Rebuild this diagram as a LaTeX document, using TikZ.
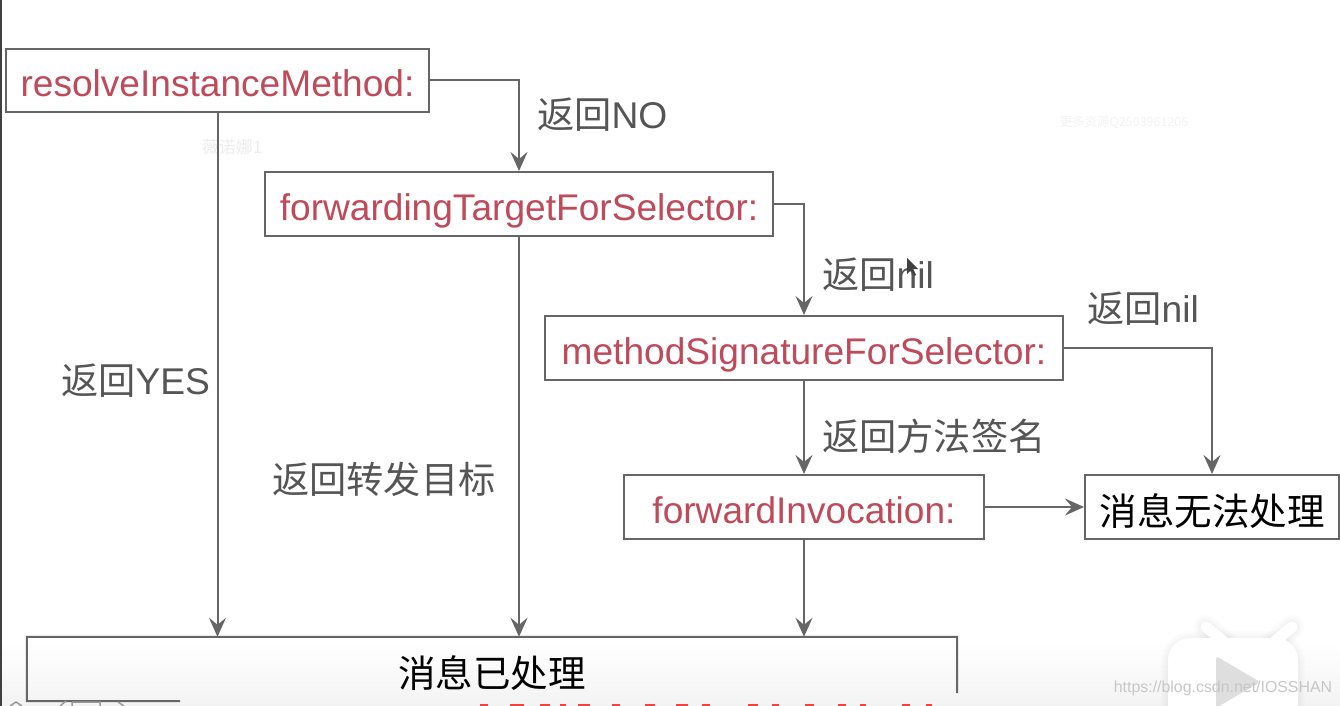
\documentclass[tikz,border=0pt]{standalone}
\usepackage{fontspec}
\setmainfont{Liberation Sans}
\newfontfamily\cjk{Noto Sans CJK SC}
\usetikzlibrary{arrows.meta}
\definecolor{linegray}{HTML}{666666}
\definecolor{textgray}{HTML}{555555}
\definecolor{methodred}{HTML}{BE4A5A}
\definecolor{markred}{HTML}{F01818}
\definecolor{wmgray}{HTML}{EDEDED}
\definecolor{bgend}{HTML}{F3F3F3}
\tikzset{
  x=1pt,y=-1pt,
  methodbox/.style={draw=linegray,line width=2pt,fill=white,text=methodred,inner sep=0pt,
    text height=32pt,text depth=0pt,font=\fontsize{37.1}{37}\selectfont},
  resultbox/.style={draw=linegray,line width=2pt,fill=white,text=black,inner sep=0pt,
    font=\fontsize{37.5}{37}\selectfont\cjk},
  edgelabel/.style={text=textgray,inner sep=0pt,font=\fontsize{37.2}{37}\selectfont},
  conn/.style={draw=linegray,line width=2pt,-{Stealth[length=19pt,width=17pt,inset=7pt]}},
  plainconn/.style={draw=linegray,line width=2pt}
}
\begin{document}
\begin{tikzpicture}
\useasboundingbox (0,0) rectangle (1340,706);
\fill[white] (0,0) rectangle (1340,640);
\shade[top color=white,bottom color=bgend] (0,640) rectangle (1340,706);
\fill[black!75] (0,0) rectangle (1.5,706);
% video logo, with a soft shadow
\foreach \lw in {14,10,6,3}{
  \draw[black,opacity=0.012,line width=\lw pt,rounded corners=24pt] (1168,638) rectangle (1298,730);
  \draw[black,opacity=0.012,line width=\lw pt+11pt,line cap=round] (1206,627) -- (1227,645) (1292,627) -- (1271,645);
}
\draw[white,line width=11pt,line cap=round] (1206,627) -- (1240,655) (1292,627) -- (1258,655);
\fill[white,rounded corners=22pt] (1168,638) rectangle (1298,730);
\fill[black!13,rounded corners=3pt] (1216,656) -- (1260,682) -- (1216,708) -- cycle;
% watermarks
\node[text=wmgray,inner sep=0pt,font=\fontsize{17}{17}\selectfont\cjk] (wma) at (232,147) {薇诺娜1};
\node[text=wmgray!70,inner sep=0pt,font=\fontsize{12.5}{13}\selectfont\cjk] (wmb) at (1124,122) {更多资源Q2503961206};
\node[text=black!22,inner sep=0pt,font=\fontsize{15.9}{16}\selectfont] (wmc) at (1223,688) {https://blog.csdn.net/IOSSHAN};
% boxes
\node[methodbox,minimum width=423pt,minimum height=63pt] (a) at (217.5,80.5) {resolveInstanceMethod:};
\node[methodbox,minimum width=508pt,minimum height=64pt] (b) at (519,204) {forwardingTargetForSelector:};
\node[methodbox,minimum width=518pt,minimum height=64pt] (c) at (804,348) {methodSignatureForSelector:};
\node[methodbox,minimum width=360pt,minimum height=64pt] (d) at (804,507) {forwardInvocation:};
\node[resultbox,minimum width=254pt,minimum height=64pt,text height=36pt,text depth=0pt] (e) at (1212,507) {消息无法处理};
% bottom box, cut by the frame edge
\node[inner sep=0pt,minimum width=930pt,minimum height=64pt,text=black,text height=36pt,text depth=0pt,font=\fontsize{37.5}{37}\selectfont\cjk] (f) at (492,669) {消息已处理};
\coordinate (fbl) at (f.south west);
\coordinate (fr) at (957,693);
\coordinate (fb) at (180,701);
\draw[plainconn] (fb) -- (fbl) -- (f.north west) -- (f.north east) -- (fr);
% connectors
\draw[conn] (a.east) -| (b.north);
\draw[conn] (b.east) -| (c.north);
\draw[conn] (c.east) -| (e.north);
\draw[conn] (c.south) -- (d.north);
\draw[conn] (d.east) -- (e.west);
\draw[conn] (a.south) -- (a.south |- f.north);
\draw[conn] (b.south) -- (b.south |- f.north);
\draw[conn] (d.south) -- (d.south |- f.north);
% labels
\node[edgelabel,anchor=west] (l1) at (537,115) {{\cjk 返回}NO};
\node[edgelabel,anchor=west] (l2) at (822,275) {{\cjk 返回}nil};
\node[edgelabel,anchor=west] (l3) at (1087,309) {{\cjk 返回}nil};
\node[edgelabel,anchor=west] (l4) at (822,436) {\cjk 返回方法签名};
\node[edgelabel,anchor=west] (l5) at (61,381) {{\cjk 返回}YES};
\node[edgelabel,anchor=west] (l6) at (272,479) {\cjk 返回转发目标};
% mouse pointer
\fill[black!75] (907,258) -- (907,274) -- (911,270) -- (914,276) -- (916,275) -- (913,269) -- (918,269) -- cycle;
% red strokes, tops of cropped text
\foreach \px/\pw in {480/8,510/14,540/10,560/6,578/12,612/8,645/10,676/12,702/8,748/10,772/7,805/9,838/8,860/6,902/8,926/6}
  \fill[markred,opacity=0.8] (\px,704) rectangle ++(\pw,2);
% cropped grey marks bottom left
\draw[black!40,line width=1.5pt] (10,706) -- (16,702) -- (22,706) (60,706) -- (66,701) (72,702) -- (72,706) (72,702) -- (100,702) -- (100,706) (118,702) -- (124,706);
\end{tikzpicture}
\end{document}
